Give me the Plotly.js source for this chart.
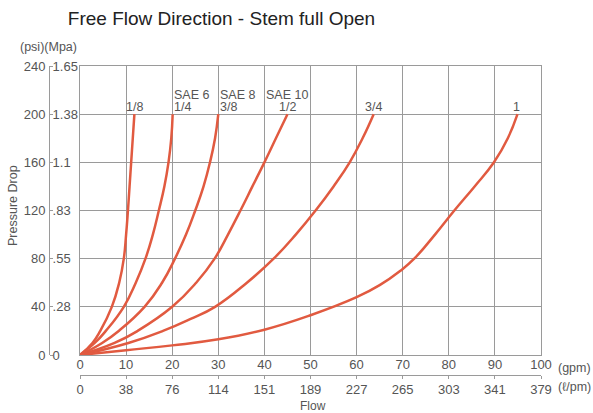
<!DOCTYPE html>
<html>
<head>
<meta charset="utf-8">
<script src="https://cdn.plot.ly/plotly-3.0.1.min.js"></script>
<style>html,body{margin:0;padding:0;background:#fff;}#chart{width:593px;height:413px;}</style>
</head>
<body>
<div id="chart"></div>
<script>
// Series names (pipe sizes) and SAE designations
const sizes = ['1/8', '1/4', '3/8', '1/2', '3/4', '1'];
const saeNames = ['', 'SAE 6', 'SAE 8', 'SAE 10', '', ''];

// Flow (gpm) and pressure drop (psi)
const flow_1_8 = [0, 2.7, 4.4, 6.9, 8.5, 9.5, 10.0, 10.4, 10.75, 11.1, 11.45, 11.8];
const psi_1_8  = [0, 10, 20, 40, 60, 80, 100, 120, 140, 160, 180, 200];

const flow_1_4 = [0, 3.2, 5.6, 9.5, 12.1, 14.2, 15.8, 17.1, 18.3, 19.2, 19.8, 20.1];
const psi_1_4  = [0, 10, 20, 40, 60, 80, 100, 120, 140, 160, 180, 200];

const flow_3_8 = [0, 4.8, 8.4, 14.0, 17.8, 20.6, 23.0, 25.0, 26.8, 28.2, 29.3, 30.0];
const psi_3_8  = [0, 10, 20, 40, 60, 80, 100, 120, 140, 160, 180, 200];

const flow_1_2 = [0, 7.5, 12.5, 20.0, 25.2, 29.2, 32.1, 34.8, 37.4, 40.0, 42.5, 45.0];
const psi_1_2  = [0, 10, 20, 40, 60, 80, 100, 120, 140, 160, 180, 200];

const flow_3_4 = [0, 10.5, 18.0, 24.0, 29.3, 36.2, 42.0, 46.8, 51.1, 55.0, 58.5, 61.3, 63.7];
const psi_3_4  = [0, 10, 20, 30, 40, 60, 80, 100, 120, 140, 160, 180, 200];

const flow_1 = [0, 10, 20, 30, 40, 50, 60, 65, 69.5, 72.5, 77, 81.2, 85.6, 89.8, 92.8, 94.9];
const psi_1  = [0, 4, 8, 13, 21, 33, 48, 58, 70, 80, 100, 120, 140, 160, 180, 200];

// Axis tick labels
const gpmTicks = [0, 10, 20, 30, 40, 50, 60, 70, 80, 90, 100];
const lpmLabels = ['0', '38', '76', '114', '151', '189', '227', '265', '303', '341', '379'];
const psiTicks = [0, 40, 80, 120, 160, 200, 240];
const mpaLabels = ['0', '.28', '.55', '.83', '1.1', '1.38', '1.65'];

const flows = [flow_1_8, flow_1_4, flow_3_8, flow_1_2, flow_3_4, flow_1];
const psis = [psi_1_8, psi_1_4, psi_3_8, psi_1_2, psi_3_4, psi_1];

const lineColor = '#e15a40';
const gridColor = '#9a9a9a';
const textColor = '#555555';
const FONT = 'Liberation Sans, Arial, sans-serif';

const traces = flows.map((fx, i) => ({
  type: 'scatter', mode: 'lines', x: fx, y: psis[i], name: sizes[i],
  line: {color: lineColor, width: 2.5, shape: 'spline', smoothing: 1.3},
  xaxis: 'x', yaxis: 'y', hoverinfo: 'skip'
}));
// empty traces so that the secondary label axes get drawn
traces.push({type: 'scatter', mode: 'none', x: [], y: [], xaxis: 'x2', yaxis: 'y2', hoverinfo: 'skip'});
traces.push({type: 'scatter', mode: 'none', x: [], y: [], xaxis: 'x3', yaxis: 'y3', hoverinfo: 'skip'});

// Paper geometry helpers
const W = 593, H = 413, mL = 10, mR = 52, mT = 66, mB = 20;
const pw = W - mL - mR, ph = H - mT - mB;
const px = v => (v - mL) / pw;
const py = v => (H - mB - v) / ph;

const annotations = [];
const labelAnchor = ['center', 'left', 'left', 'center', 'center', 'center'];
const labelShift = [0, 0, 1, 0, 0, -1];
sizes.forEach((s, i) => {
  const n = flows[i].length - 1;
  annotations.push({x: flows[i][n], y: psis[i][n], xref: 'x', yref: 'y', text: s,
    showarrow: false, xanchor: labelAnchor[i], yanchor: 'middle', yshift: 7.5, xshift: labelShift[i],
    borderpad: 0, font: {family: FONT, size: 12.5, color: textColor}});
  if (saeNames[i]) {
    annotations.push({x: flows[i][n], y: psis[i][n], xref: 'x', yref: 'y', text: saeNames[i],
      showarrow: false, xanchor: labelAnchor[i], yanchor: 'middle', yshift: 19.5, xshift: labelShift[i],
      borderpad: 0, font: {family: FONT, size: 12.5, color: textColor}});
  }
});
annotations.push(
  {x: px(18), y: py(47), xref: 'paper', yref: 'paper', text: '(psi)(Mpa)', showarrow: false,
   xanchor: 'left', yanchor: 'middle', font: {family: FONT, size: 12.5, color: textColor}},
  {x: px(13), y: py(206), xref: 'paper', yref: 'paper', text: 'Pressure Drop', showarrow: false,
   textangle: -90, xanchor: 'center', yanchor: 'middle', font: {family: FONT, size: 12.5, color: textColor}},
  {x: px(313), y: py(406), xref: 'paper', yref: 'paper', text: 'Flow', showarrow: false,
   xanchor: 'center', yanchor: 'middle', font: {family: FONT, size: 12, color: textColor}},
  {x: px(556), y: py(368), xref: 'paper', yref: 'paper', text: '(gpm)', showarrow: false,
   xanchor: 'left', yanchor: 'middle', font: {family: FONT, size: 12.5, color: textColor}},
  {x: px(556), y: py(387), xref: 'paper', yref: 'paper', text: '(ℓ/pm)', showarrow: false,
   xanchor: 'left', yanchor: 'middle', font: {family: FONT, size: 12.5, color: textColor}}
);

const xDomain = [px(80), 1];
const yDomain = [py(355), 1];
const tickFont = {family: FONT, size: 13, color: textColor};

const layout = {
  width: W, height: H,
  margin: {l: mL, r: mR, t: mT, b: mB, pad: 0},
  paper_bgcolor: '#fff', plot_bgcolor: '#fff',
  showlegend: false, hovermode: false,
  title: {text: 'Free Flow Direction - Stem full Open', xref: 'container', yref: 'container',
    x: 221.5 / W, xanchor: 'center', y: 1 - 18 / H, yanchor: 'middle',
    font: {family: FONT, size: 19, color: '#222'}},
  xaxis: {domain: xDomain, range: [0, 100], dtick: 10, tick0: 0, showgrid: true, gridcolor: gridColor,
    gridwidth: 1, showticklabels: false, ticks: '', zeroline: false, showline: true, mirror: true,
    linecolor: gridColor, linewidth: 1, anchor: 'y'},
  yaxis: {domain: yDomain, range: [0, 240], dtick: 40, tick0: 0, showgrid: true, gridcolor: gridColor,
    gridwidth: 1, showticklabels: false, ticks: '', zeroline: false, showline: true, mirror: true,
    linecolor: gridColor, linewidth: 1, anchor: 'x'},
  xaxis2: {overlaying: 'x', anchor: 'free', position: py(375), side: 'top', range: [0, 100],
    tickmode: 'array', tickvals: gpmTicks, ticktext: gpmTicks.map(String), ticks: '',
    showgrid: false, zeroline: false, showline: true, linecolor: gridColor, linewidth: 1,
    tickfont: tickFont, ticklabelstandoff: 1},
  xaxis3: {overlaying: 'x', anchor: 'free', position: py(375), side: 'bottom', range: [0, 100],
    tickmode: 'array', tickvals: gpmTicks, ticktext: lpmLabels, ticks: 'outside', ticklen: 3,
    tickcolor: gridColor, showgrid: false, zeroline: false, showline: false, tickfont: tickFont,
    ticklabelstandoff: -1},
  yaxis2: {overlaying: 'y', anchor: 'free', position: px(49), side: 'left', range: [0, 240],
    tickmode: 'array', tickvals: psiTicks, ticktext: psiTicks.map(String), ticks: '',
    showgrid: false, zeroline: false, showline: true, linecolor: gridColor, linewidth: 1,
    tickfont: tickFont, ticklabelstandoff: 1},
  yaxis3: {overlaying: 'y', anchor: 'free', position: px(49), side: 'right', range: [0, 240],
    tickmode: 'array', tickvals: psiTicks, ticktext: mpaLabels, ticks: 'outside', ticklen: 3,
    tickcolor: gridColor, showgrid: false, zeroline: false, showline: false, tickfont: tickFont,
    ticklabelstandoff: -3},
  annotations: annotations
};

Plotly.newPlot('chart', traces, layout, {staticPlot: true, displayModeBar: false});
</script>
</body>
</html>
